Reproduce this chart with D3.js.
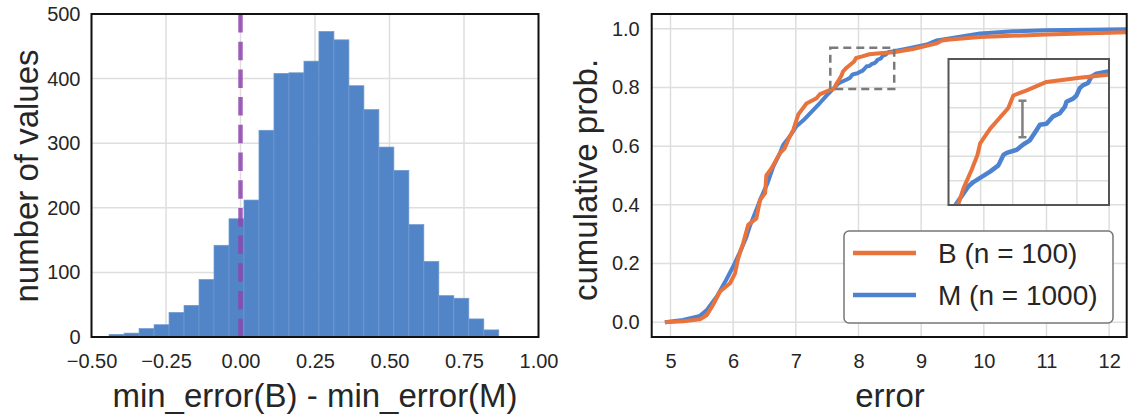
<!doctype html>
<html lang="en">
<head>
<meta charset="UTF-8" />
<title>min_error histogram and cumulative error</title>
<script src="https://d3js.org/d3.v7.min.js"></script>
<style>
  body { margin: 0; background: #fff; }
  text { font-family: "Liberation Sans", Arial, sans-serif; fill: #262626; }
</style>
</head>
<body>
<div id="chart"></div>
<script>
// left: histogram of min_error(B) - min_error(M)
var binStart = -0.441;
var binWidth = 0.0503;
var binCounts = [4, 6, 13, 19, 38, 49, 89, 142, 183, 212, 320, 408, 409, 427,
                 473, 460, 389, 352, 294, 258, 174, 117, 64, 60, 28, 11];
var histXTicks = [-0.5, -0.25, 0, 0.25, 0.5, 0.75, 1.0];
var histYTicks = [0, 100, 200, 300, 400, 500];

// right: cumulative prob. curves, [error, prob]
var cdfB = [
  [4.91, 0.000], [5.20, 0.004], [5.47, 0.010], [5.58, 0.025], [5.68, 0.060],
  [5.79, 0.105], [5.95, 0.133], [6.03, 0.167], [6.08, 0.218], [6.16, 0.270],
  [6.24, 0.332], [6.37, 0.354], [6.43, 0.417], [6.51, 0.440], [6.53, 0.500],
  [6.61, 0.524], [6.75, 0.577], [6.82, 0.592], [6.90, 0.632], [6.96, 0.655],
  [7.04, 0.708], [7.17, 0.745], [7.33, 0.763], [7.38, 0.776], [7.54, 0.791],
  [7.613, 0.796], [7.645, 0.811], [7.698, 0.829], [7.734, 0.843], [7.751, 0.854],
  [7.814, 0.868], [7.930, 0.888], [7.962, 0.900], [8.047, 0.905], [8.173, 0.913],
  [8.384, 0.917], [8.564, 0.920], [8.70, 0.925], [8.87, 0.931], [9.25, 0.950],
  [9.33, 0.960], [9.46, 0.963], [9.94, 0.972], [11.0, 0.980], [12.3, 0.988]
];
var cdfM = [
  [4.91, 0.000], [5.20, 0.008], [5.47, 0.022], [5.58, 0.042], [5.74, 0.088],
  [5.89, 0.145], [6.00, 0.190], [6.11, 0.240], [6.21, 0.290], [6.27, 0.330],
  [6.37, 0.383], [6.43, 0.417], [6.55, 0.475], [6.64, 0.530], [6.75, 0.578],
  [6.80, 0.605], [6.90, 0.632], [7.01, 0.668], [7.12, 0.688], [7.38, 0.746],
  [7.49, 0.772], [7.599, 0.796], [7.677, 0.813], [7.708, 0.817], [7.751, 0.821],
  [7.814, 0.827], [7.867, 0.833], [7.899, 0.843], [7.920, 0.845], [7.984, 0.848],
  [8.025, 0.853], [8.067, 0.857], [8.110, 0.867], [8.131, 0.872], [8.173, 0.873],
  [8.215, 0.880], [8.258, 0.883], [8.289, 0.889], [8.300, 0.894], [8.342, 0.897],
  [8.363, 0.900], [8.384, 0.907], [8.406, 0.910], [8.437, 0.912], [8.458, 0.918],
  [8.490, 0.921], [8.564, 0.923], [8.79, 0.933], [9.09, 0.946], [9.25, 0.960],
  [9.94, 0.984], [10.47, 0.991], [11.0, 0.995], [12.3, 0.998]
];
var cdfXTicks = [5, 6, 7, 8, 9, 10, 11, 12];
var cdfYTicks = [0, 0.2, 0.4, 0.6, 0.8, 1.0];
var zoomBox = { x0: 7.55, x1: 8.57, y0: 0.795, y1: 0.935 };
var gapMark = { x: 8.02, y0: 0.86, y1: 0.895 };
var legendLabels = ['B (n = 100)', 'M (n = 1000)'];

var colorB = '#e8733d';
var colorM = '#4c82d0';
var gridColor = '#dedede';

var svg = d3.select('#chart')
  .append('svg')
  .attr('width', 1138)
  .attr('height', 417);

function styleAxis(g, size) {
  g.select('.domain').remove();
  g.attr('font-family', '"Liberation Sans", Arial, sans-serif')
    .attr('font-size', size)
    .attr('color', '#262626');
}

// ---------- histogram ----------
var hx = d3.scaleLinear().domain([-0.5, 1.0]).range([91.5, 538.5]);
var hy = d3.scaleLinear().domain([0, 500]).range([337, 14]);

var left = svg.append('g');

left.selectAll('.vgrid')
  .data(histXTicks)
  .enter()
  .append('line')
  .attr('x1', d => hx(d)).attr('x2', d => hx(d))
  .attr('y1', hy.range()[0]).attr('y2', hy.range()[1])
  .attr('stroke', gridColor).attr('stroke-width', 1.5);

left.selectAll('.hgrid')
  .data(histYTicks)
  .enter()
  .append('line')
  .attr('x1', hx.range()[0]).attr('x2', hx.range()[1])
  .attr('y1', d => hy(d)).attr('y2', d => hy(d))
  .attr('stroke', gridColor).attr('stroke-width', 1.5);

left.selectAll('.bar')
  .data(binCounts)
  .enter()
  .append('rect')
  .attr('x', (d, i) => hx(binStart + i * binWidth))
  .attr('width', (d, i) => hx(binStart + (i + 1) * binWidth) - hx(binStart + i * binWidth))
  .attr('y', d => hy(d))
  .attr('height', d => hy(0) - hy(d))
  .attr('fill', '#5285c7')
  .attr('stroke', '#6e99d2')
  .attr('stroke-width', 0.7);

left.append('line')
  .attr('x1', hx(0)).attr('x2', hx(0))
  .attr('y1', hy.range()[1]).attr('y2', hy.range()[0])
  .attr('stroke', '#8e44ad')
  .attr('stroke-opacity', 0.85)
  .attr('stroke-width', 4.5)
  .attr('stroke-dasharray', '18.5,9.2');

left.append('rect')
  .attr('x', hx.range()[0]).attr('y', hy.range()[1])
  .attr('width', hx.range()[1] - hx.range()[0])
  .attr('height', hy.range()[0] - hy.range()[1])
  .attr('fill', 'none').attr('stroke', '#111').attr('stroke-width', 2);

left.append('g')
  .attr('transform', 'translate(0,' + hy.range()[0] + ')')
  .call(d3.axisBottom(hx).tickValues(histXTicks).tickSize(0).tickPadding(17)
    .tickFormat(d3.format('.2f')))
  .call(g => styleAxis(g, 20));

left.append('g')
  .attr('transform', 'translate(' + hx.range()[0] + ',0)')
  .call(d3.axisLeft(hy).tickValues(histYTicks).tickSize(0).tickPadding(11))
  .call(g => styleAxis(g, 20));

left.append('text')
  .attr('x', 315).attr('y', 407)
  .attr('text-anchor', 'middle')
  .attr('font-size', 33)
  .text('min_error(B) - min_error(M)');

left.append('text')
  .attr('transform', 'translate(38,176) rotate(-90)')
  .attr('text-anchor', 'middle')
  .attr('font-size', 33)
  .text('number of values');

// ---------- cumulative curves ----------
var cx = d3.scaleLinear().domain([4.7, 12.28]).range([651.7, 1126.7]);
var cy = d3.scaleLinear().domain([-0.05, 1.05]).range([337, 14]);

var right = svg.append('g');

var defs = svg.append('defs');
defs.append('clipPath').attr('id', 'clip-main')
  .append('rect')
  .attr('x', cx.range()[0]).attr('y', cy.range()[1])
  .attr('width', cx.range()[1] - cx.range()[0])
  .attr('height', cy.range()[0] - cy.range()[1]);

right.selectAll('.vgrid')
  .data(cdfXTicks)
  .enter()
  .append('line')
  .attr('x1', d => cx(d)).attr('x2', d => cx(d))
  .attr('y1', cy.range()[0]).attr('y2', cy.range()[1])
  .attr('stroke', gridColor).attr('stroke-width', 1.5);

right.selectAll('.hgrid')
  .data(cdfYTicks)
  .enter()
  .append('line')
  .attr('x1', cx.range()[0]).attr('x2', cx.range()[1])
  .attr('y1', d => cy(d)).attr('y2', d => cy(d))
  .attr('stroke', gridColor).attr('stroke-width', 1.5);

var mainLine = d3.line().x(d => cx(d[0])).y(d => cy(d[1]));

var curves = right.append('g').attr('clip-path', 'url(#clip-main)');
curves.append('path')
  .attr('d', mainLine(cdfM))
  .attr('fill', 'none').attr('stroke', colorM).attr('stroke-width', 4)
  .attr('stroke-linejoin', 'round');
curves.append('path')
  .attr('d', mainLine(cdfB))
  .attr('fill', 'none').attr('stroke', colorB).attr('stroke-width', 4)
  .attr('stroke-linejoin', 'round');

// dashed zoom region
right.append('rect')
  .attr('x', cx(zoomBox.x0)).attr('y', cy(zoomBox.y1))
  .attr('width', cx(zoomBox.x1) - cx(zoomBox.x0))
  .attr('height', cy(zoomBox.y0) - cy(zoomBox.y1))
  .attr('fill', 'none').attr('stroke', '#7a7a7a').attr('stroke-width', 2.5)
  .attr('stroke-dasharray', '8,5');

// inset
var ix = d3.scaleLinear().domain([zoomBox.x0, zoomBox.x1]).range([948.5, 1109]);
var iy = d3.scaleLinear().domain([zoomBox.y0, zoomBox.y1]).range([205, 59]);

defs.append('clipPath').attr('id', 'clip-inset')
  .append('rect')
  .attr('x', ix.range()[0]).attr('y', iy.range()[1])
  .attr('width', ix.range()[1] - ix.range()[0])
  .attr('height', iy.range()[0] - iy.range()[1]);

var inset = right.append('g');
inset.append('rect')
  .attr('x', ix.range()[0]).attr('y', iy.range()[1])
  .attr('width', ix.range()[1] - ix.range()[0])
  .attr('height', iy.range()[0] - iy.range()[1])
  .attr('fill', '#fff');

var insetXGrid = d3.range(1, 5).map(k => zoomBox.x0 + k * (zoomBox.x1 - zoomBox.x0) / 5);
var insetYGrid = d3.range(1, 6).map(k => zoomBox.y0 + k * (zoomBox.y1 - zoomBox.y0) / 6);

inset.selectAll('.ivgrid')
  .data(insetXGrid)
  .enter()
  .append('line')
  .attr('x1', d => ix(d)).attr('x2', d => ix(d))
  .attr('y1', iy.range()[0]).attr('y2', iy.range()[1])
  .attr('stroke', gridColor).attr('stroke-width', 1.5);

inset.selectAll('.ihgrid')
  .data(insetYGrid)
  .enter()
  .append('line')
  .attr('x1', ix.range()[0]).attr('x2', ix.range()[1])
  .attr('y1', d => iy(d)).attr('y2', d => iy(d))
  .attr('stroke', gridColor).attr('stroke-width', 1.5);

var insetLine = d3.line().x(d => ix(d[0])).y(d => iy(d[1]));
var insetCurves = inset.append('g').attr('clip-path', 'url(#clip-inset)');
insetCurves.append('path')
  .attr('d', insetLine(cdfM))
  .attr('fill', 'none').attr('stroke', colorM).attr('stroke-width', 4.5)
  .attr('stroke-linejoin', 'round');
insetCurves.append('path')
  .attr('d', insetLine(cdfB))
  .attr('fill', 'none').attr('stroke', colorB).attr('stroke-width', 4)
  .attr('stroke-linejoin', 'round');

var gm = inset.append('g').attr('stroke', '#808080').attr('stroke-width', 2.5);
gm.append('line')
  .attr('x1', ix(gapMark.x)).attr('x2', ix(gapMark.x))
  .attr('y1', iy(gapMark.y0)).attr('y2', iy(gapMark.y1));
gm.selectAll('.cap')
  .data([gapMark.y0, gapMark.y1])
  .enter()
  .append('line')
  .attr('x1', ix(gapMark.x) - 4).attr('x2', ix(gapMark.x) + 4)
  .attr('y1', d => iy(d)).attr('y2', d => iy(d));

inset.append('rect')
  .attr('x', ix.range()[0]).attr('y', iy.range()[1])
  .attr('width', ix.range()[1] - ix.range()[0])
  .attr('height', iy.range()[0] - iy.range()[1])
  .attr('fill', 'none').attr('stroke', '#555').attr('stroke-width', 2);

// legend
var legend = right.append('g').attr('transform', 'translate(844,231)');
legend.append('rect')
  .attr('width', 269).attr('height', 92)
  .attr('rx', 5).attr('ry', 5)
  .attr('fill', '#fff').attr('stroke', '#777').attr('stroke-width', 1.5);

legend.selectAll('.item')
  .data(legendLabels)
  .enter()
  .append('g')
  .attr('transform', (d, i) => 'translate(0,' + (22 + i * 42) + ')')
  .each(function (label, i) {
    var item = d3.select(this);
    item.append('line')
      .attr('x1', 9).attr('x2', 72)
      .attr('stroke', i === 0 ? colorB : colorM)
      .attr('stroke-width', 4.5);
    item.append('text')
      .attr('x', 94).attr('y', 10)
      .attr('font-size', 28)
      .text(label);
  });

right.append('rect')
  .attr('x', cx.range()[0]).attr('y', cy.range()[1])
  .attr('width', cx.range()[1] - cx.range()[0])
  .attr('height', cy.range()[0] - cy.range()[1])
  .attr('fill', 'none').attr('stroke', '#111').attr('stroke-width', 2);

right.append('g')
  .attr('transform', 'translate(0,' + cy.range()[0] + ')')
  .call(d3.axisBottom(cx).tickValues(cdfXTicks).tickSize(0).tickPadding(17))
  .call(g => styleAxis(g, 20));

right.append('g')
  .attr('transform', 'translate(' + cx.range()[0] + ',0)')
  .call(d3.axisLeft(cy).tickValues(cdfYTicks).tickSize(0).tickPadding(12)
    .tickFormat(d3.format('.1f')))
  .call(g => styleAxis(g, 20));

right.append('text')
  .attr('x', 890).attr('y', 407)
  .attr('text-anchor', 'middle')
  .attr('font-size', 33)
  .text('error');

right.append('text')
  .attr('transform', 'translate(597,180) rotate(-90)')
  .attr('text-anchor', 'middle')
  .attr('font-size', 33)
  .text('cumulative prob.');
</script>
</body>
</html>
